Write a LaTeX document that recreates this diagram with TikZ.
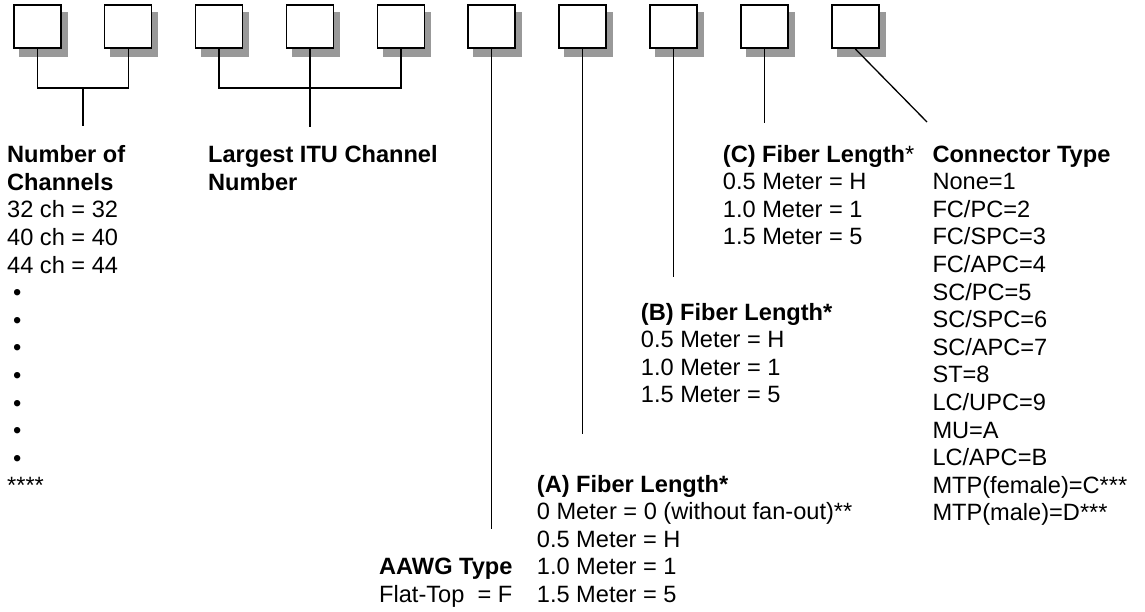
\documentclass[tikz,border=0pt]{standalone}
\usepackage{fontspec}
\setmainfont{Liberation Sans}

\begin{document}
\begin{tikzpicture}[
    x=1pt, y=-1pt,
    code_box/.style={rectangle, draw=black, line width=1.6pt, fill=white, minimum width=47pt, minimum height=43pt, inner sep=0pt},
    box_shadow/.style={rectangle, fill=black!40, minimum width=48.6pt, minimum height=44.6pt, inner sep=0pt},
    code_lbl/.style={anchor=base west, inner sep=0pt, align=left, font=\fontsize{23.6}{27.6}\selectfont},
    lead_line/.style={line width=1.3pt}
]
    \useasboundingbox (0,0) rectangle (1145,611);

    % Code Boxes
    \foreach \i in {1,...,10} {
        \node[box_shadow] (s\i) at ({43.25+90.9*(\i-1)},34.7) {};
        \node[code_box] (b\i) at ({37.25+90.9*(\i-1)},26.7) {};
    }

    % Field Descriptions (placed at the baseline of their last line)
    \node[code_lbl] (chan) at (7,493.9) {\textbf{Number of}\\\textbf{Channels}\\32 ch = 32\\40 ch = 40\\44 ch = 44\\\hspace*{0.25em}\textbullet\\\hspace*{0.25em}\textbullet\\\hspace*{0.25em}\textbullet\\\hspace*{0.25em}\textbullet\\\hspace*{0.25em}\textbullet\\\hspace*{0.25em}\textbullet\\\hspace*{0.25em}\textbullet\\****};
    \node[code_lbl] (itu) at (208,190.3) {\textbf{Largest ITU Channel}\\\textbf{Number}};
    \node[code_lbl] (aawg) at (379,602.1) {\textbf{AAWG Type}\\Flat-Top~~= F};
    \node[code_lbl] (fiba) at (536.7,602.4) {\textbf{(A) Fiber Length*}\\0 Meter = 0 (without fan-out)**\\0.5 Meter = H\\1.0 Meter = 1\\1.5 Meter = 5};
    \node[code_lbl] (fibb) at (640.7,402.8) {\textbf{(B) Fiber Length*}\\0.5 Meter = H\\1.0 Meter = 1\\1.5 Meter = 5};
    \node[code_lbl] (fibc) at (722.7,244.8) {\textbf{(C) Fiber Length}*\\0.5 Meter = H\\1.0 Meter = 1\\1.5 Meter = 5};
    \node[code_lbl] (conn) at (932.3,520.8) {\textbf{Connector Type}\\None=1\\FC/PC=2\\FC/SPC=3\\FC/APC=4\\SC/PC=5\\SC/SPC=6\\SC/APC=7\\ST=8\\LC/UPC=9\\MU=A\\LC/APC=B\\MTP(female)=C***\\MTP(male)=D***};

    % Joints and Free Ends
    \coordinate (j12) at (83,88);
    \coordinate (e12) at (83,126);
    \coordinate (j35) at (b4.south |- 0,88);
    \coordinate (e35) at (b4.south |- 0,127);
    \coordinate (e6) at (b6.south |- 0,529);
    \coordinate (e7) at (b7.south |- 0,434);
    \coordinate (e8) at (b8.south |- 0,277);
    \coordinate (e9) at (b9.south |- 0,123);
    \coordinate (e10) at (927,122);

    % Leader Lines
    \draw[lead_line] (b1.south) |- (j12) -| (b2.south);
    \draw[lead_line] (j12) -- (e12);
    \draw[lead_line] (b3.south) |- (j35) -| (b5.south);
    \draw[lead_line] (b4.south) -- (e35);
    \draw[lead_line] (b6.south) -- (e6);
    \draw[lead_line] (b7.south) -- (e7);
    \draw[lead_line] (b8.south) -- (e8);
    \draw[lead_line] (b9.south) -- (e9);
    \draw[lead_line] (b10.south) -- (e10);
\end{tikzpicture}
\end{document}
